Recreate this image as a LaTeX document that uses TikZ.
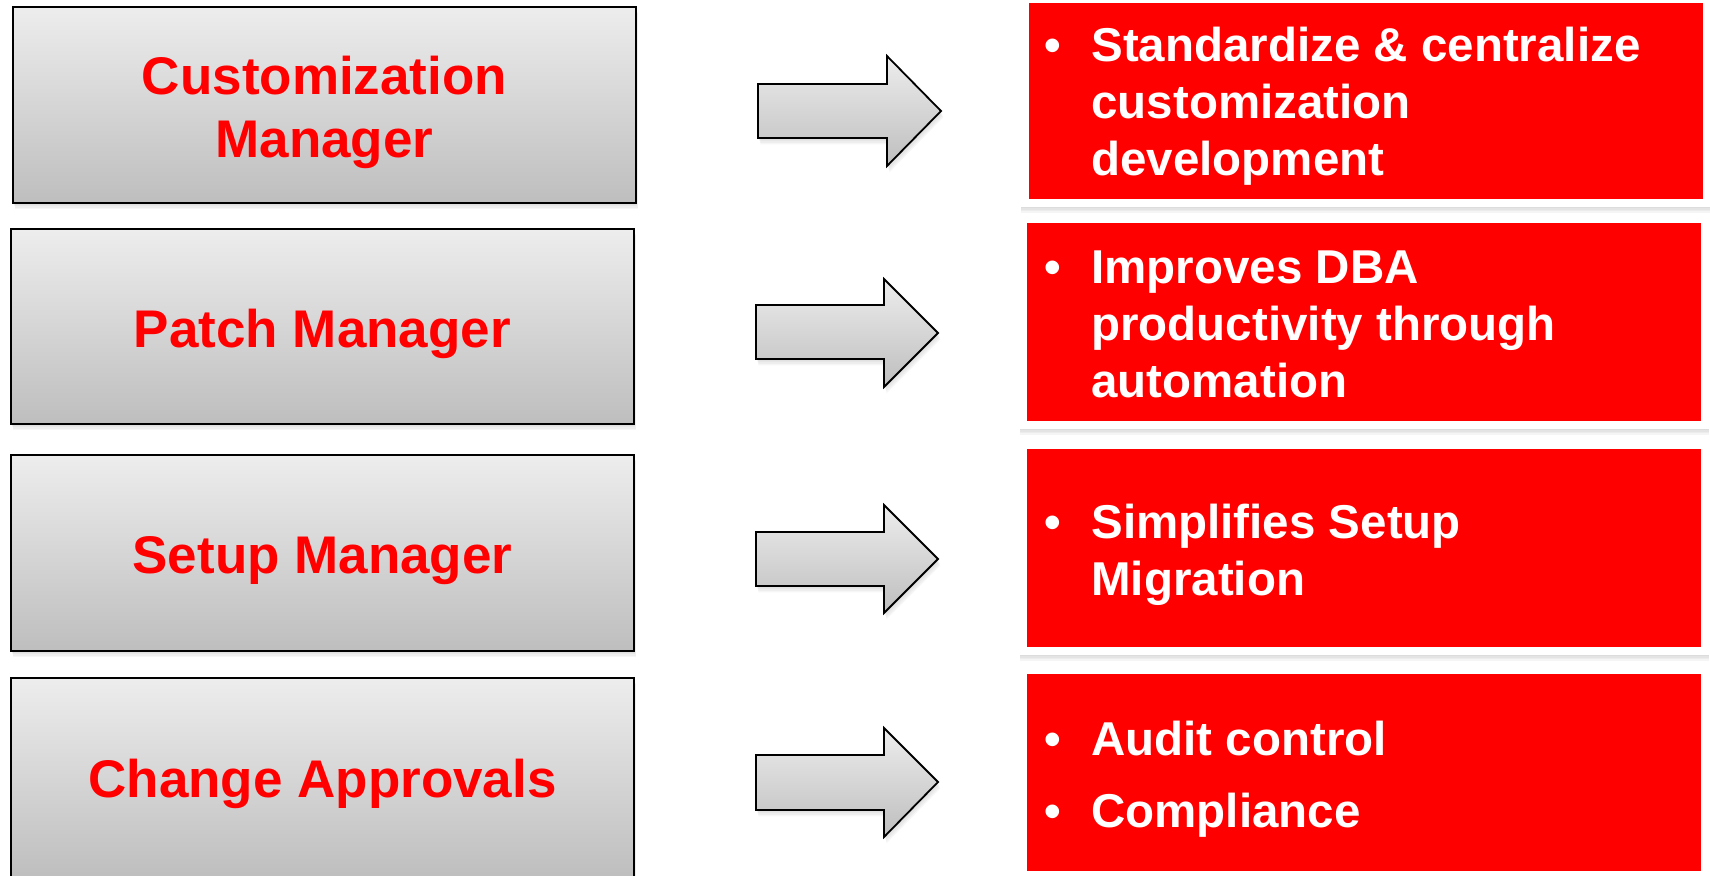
\documentclass[tikz,border=0pt]{standalone}
\usepackage{fontspec}
\setmainfont{Liberation Sans}
\usetikzlibrary{shadows}
\definecolor{graytop}{RGB}{237,237,237}
\definecolor{graybot}{RGB}{190,190,190}
\definecolor{pptred}{RGB}{255,0,0}
\begin{document}
\begin{tikzpicture}[x=0.5pt,y=-0.5pt,
  softshadow/.style={
    drop shadow={opacity=0.07, shadow xshift=0.4pt, shadow yshift=-0.8pt},
    drop shadow={opacity=0.07, shadow xshift=0.7pt, shadow yshift=-1.6pt},
    drop shadow={opacity=0.07, shadow xshift=1.0pt, shadow yshift=-2.4pt},
    drop shadow={opacity=0.07, shadow xshift=1.2pt, shadow yshift=-3.2pt}},
  framesoftshadow/.style={
    drop shadow={opacity=0.08, shadow xshift=0pt, shadow yshift=-0.8pt},
    drop shadow={opacity=0.08, shadow xshift=0pt, shadow yshift=-1.6pt},
    drop shadow={opacity=0.08, shadow xshift=0pt, shadow yshift=-2.4pt},
    drop shadow={opacity=0.08, shadow xshift=0pt, shadow yshift=-3.2pt}},
  leftbox/.style={draw=black, line width=1pt, top color=graytop, bottom color=graybot,
    inner sep=0pt, outer sep=0pt, minimum width=311.5pt, softshadow},
  frame/.style={fill=white, inner sep=0pt, outer sep=0pt, minimum width=344.5pt, framesoftshadow},
  redbox/.style={fill=pptred, inner sep=0pt, outer sep=0pt, minimum width=337pt},
  blockarrow/.style={draw=black, line width=0.9pt, line join=miter, top color=graytop, bottom color=graybot,
    softshadow},
  lefttext/.style={text=pptred, anchor=base, inner sep=0pt,
    font=\fontsize{26.5pt}{31.5pt}\selectfont\bfseries},
  righttext/.style={text=white, anchor=base west, inner sep=0pt,
    font=\fontsize{23.75pt}{28.5pt}\selectfont\bfseries},
  bullet/.style={text=white, anchor=base, inner sep=0pt,
    font=\fontsize{23.75pt}{28.5pt}\selectfont\bfseries}]
\path[use as bounding box] (0,0) rectangle (1710,875);
\clip (0,0) rectangle (1710,875);

% left boxes
\node[leftbox, minimum height=98pt]   (L1) at (324.5,105) {};
\node[leftbox, minimum height=97.5pt] (L2) at (322.5,326.5) {};
\node[leftbox, minimum height=98pt]   (L3) at (322.5,553) {};
\node[leftbox, minimum height=100pt]  (L4) at (322.5,778) {};

\node[lefttext] (T1) at (324.5,94) {\begin{tabular}[t]{@{}c@{}}Customization\\ Manager\end{tabular}};
\node[lefttext] (T2) at (322.5,347) {Patch Manager};
\node[lefttext] (T3) at (322.5,573) {Setup Manager};
\node[lefttext] (T4) at (322.5,797) {Change Approvals};

% arrows
\draw[blockarrow] (758,84) -- (887,84) -- (887,56) -- (941,111) -- (887,166) -- (887,138) -- (758,138) -- cycle;
\draw[blockarrow] (756,305) -- (884,305) -- (884,279) -- (938,333) -- (884,387) -- (884,359) -- (756,359) -- cycle;
\draw[blockarrow] (756,532) -- (884,532) -- (884,505) -- (938,559) -- (884,613) -- (884,586) -- (756,586) -- cycle;
\draw[blockarrow] (756,755) -- (884,755) -- (884,728) -- (938,782) -- (884,837) -- (884,810) -- (756,810) -- cycle;

% right boxes
\node[frame, minimum height=105.5pt] (F1) at (1365.5,101) {};
\node[redbox, minimum height=98pt]   (R1) at (1365.5,101) {};
\node[frame, minimum height=106.5pt] (F2) at (1364,322) {};
\node[redbox, minimum height=99pt]   (R2) at (1364,322) {};
\node[frame, minimum height=106.5pt] (F3) at (1364,548) {};
\node[redbox, minimum height=99pt]   (R3) at (1364,548) {};
\node[frame, minimum height=106pt]   (F4) at (1364,772.5) {};
\node[redbox, minimum height=98.5pt] (R4) at (1364,772.5) {};

\node[bullet] (B1) at (1053,61) {•};
\node[righttext] (S1) at (1091,61) {\begin{tabular}[t]{@{}l@{}}Standardize \& centralize\\ customization\\ development\end{tabular}};
\node[bullet] (B2) at (1053,283) {•};
\node[righttext] (S2) at (1091,283) {\begin{tabular}[t]{@{}l@{}}Improves DBA\\ productivity through\\ automation\end{tabular}};
\node[bullet] (B3) at (1053,538) {•};
\node[righttext] (S3) at (1091,538) {\begin{tabular}[t]{@{}l@{}}Simplifies Setup\\ Migration\end{tabular}};
\node[bullet] (B4) at (1053,755) {•};
\node[righttext] (S4) at (1091,755) {Audit control};
\node[bullet] (B5) at (1053,827) {•};
\node[righttext] (S5) at (1091,827) {Compliance};
\end{tikzpicture}
\end{document}
